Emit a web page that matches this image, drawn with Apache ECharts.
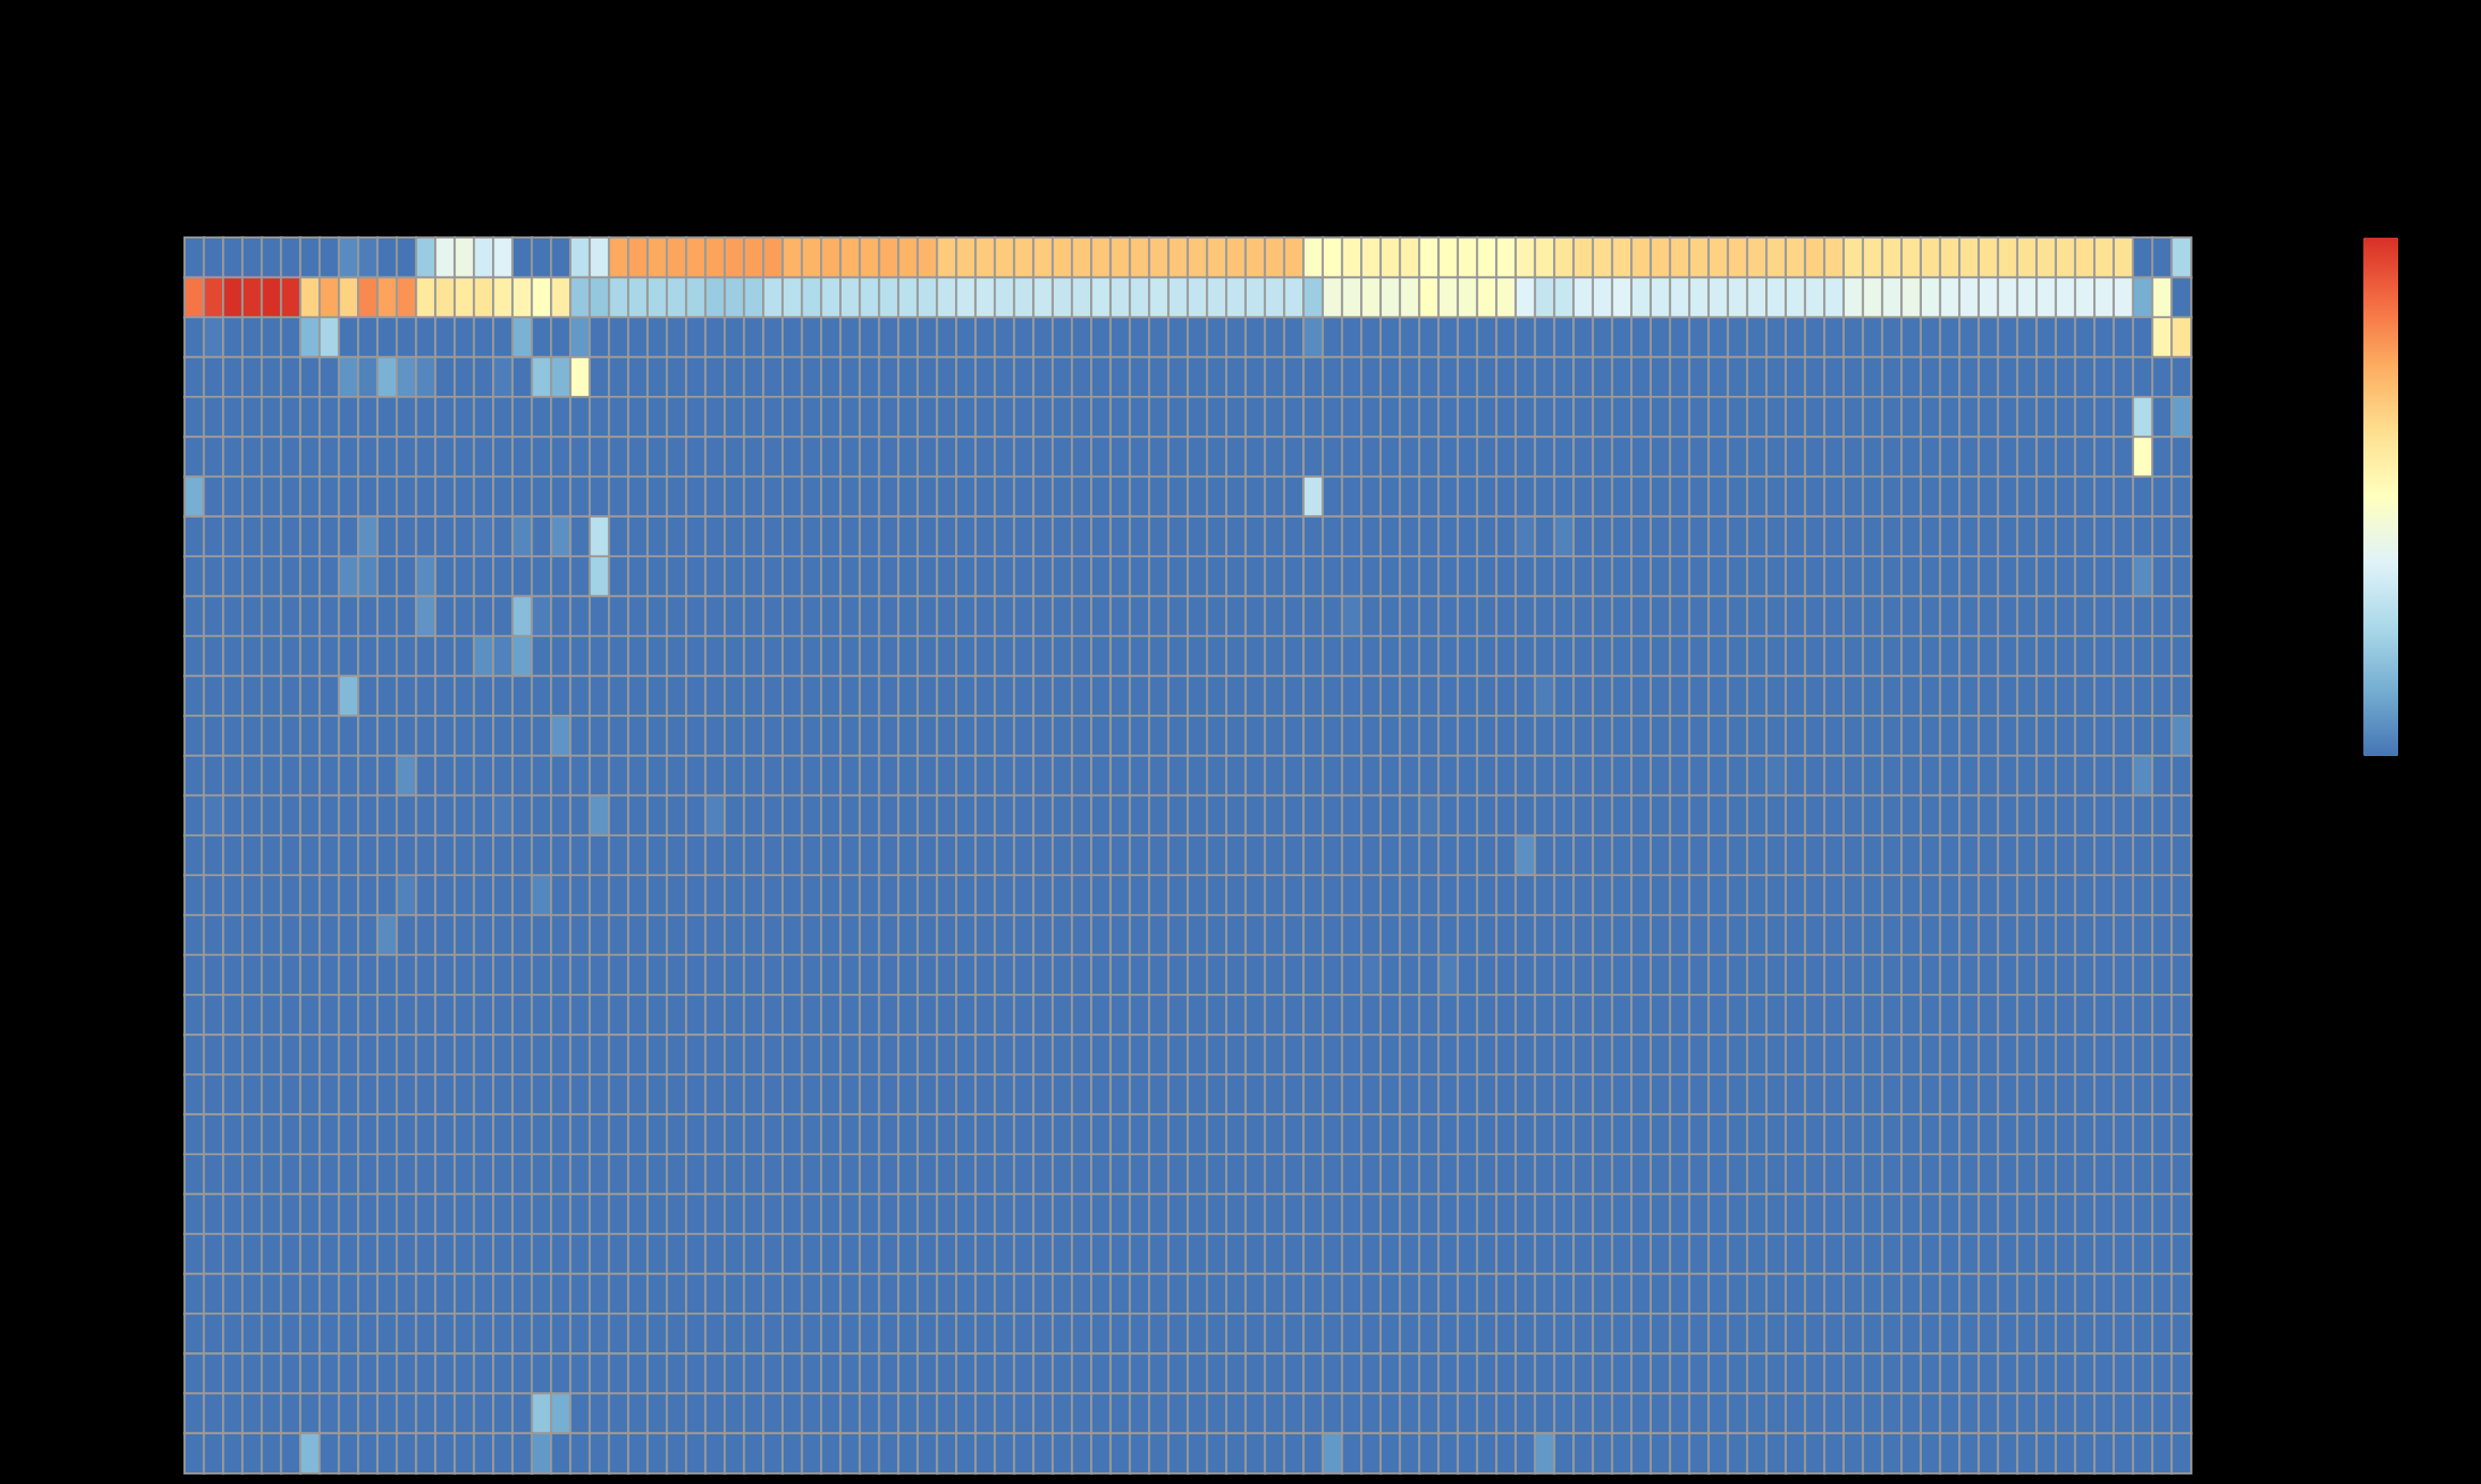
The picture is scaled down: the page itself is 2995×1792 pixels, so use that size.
<!DOCTYPE html>
<html>
<head>
<meta charset="utf-8">
<script src="https://cdn.jsdelivr.net/npm/echarts@6/dist/echarts.min.js"></script>
<style>
html,body{margin:0;padding:0;background:#000;}
#chart{width:2995px;height:1792px;}
</style>
</head>
<body>
<div id="chart"></div>
<script>
// ---- data (value scale 0..1) ----
const nCols = 104;
const nRows = 31;
const colLabels = Array.from({length: nCols}, (_, i) => 'S' + (i + 1));
const rowLabels = Array.from({length: nRows}, (_, i) => 'R' + (i + 1));

const row1Values = [
  0,0,0,0,0,0,0,0,
  0.05,0.02,0,0,
  0.21,0.40,0.42,0.34,0.37,0,0,0,0.29,0.34,
  0.758,0.77,0.758,0.765,0.765,0.77,0.777,0.777,0.78,0.735,0.735,
  0.745,0.735,0.735,0.745,0.735,0.73,
  0.68,0.68,0.68,0.68,0.68,0.68,0.685,0.685,0.69,0.69,0.69,0.69,0.69,0.69,0.69,0.695,0.695,0.70,0.70,
  0.49,0.5,0.53,0.54,0.55,0.55,0.5,0.51,0.51,0.5,
  0.5,0.54,0.56,0.6,0.63,0.63,0.64,0.66,0.665,0.665,0.66,0.66,0.665,0.66,0.65,0.65,0.665,0.65,
  0.61,0.61,0.61,0.61,0.615,0.615,0.615,0.615,0.615,0.615,0.615,0.615,0.625,0.615,0.615,
  0,0,0.245
];

const row2Values = [
  0.86,0.95,1.0,0.99,1.0,0.99,0.66,0.76,0.66,0.82,0.77,0.8,
  0.59,0.61,0.59,0.6,0.56,0.54,0.5,0.57,
  0.2,0.2,
  0.245,0.245,0.245,0.245,0.235,0.21,0.215,0.225,0.28,0.28,0.26,
  0.28,0.285,0.28,0.28,0.29,0.29,
  0.31,0.32,0.32,0.31,0.31,0.315,0.31,0.31,0.315,0.31,0.31,0.315,0.31,0.31,0.31,0.31,0.305,0.305,0.305,
  0.215,0.44,0.44,0.455,0.44,0.45,0.495,0.465,0.465,0.49,
  0.48,0.375,0.31,0.315,0.365,0.365,0.375,0.35,0.35,0.35,0.35,0.35,0.35,0.35,0.35,0.35,0.35,0.35,
  0.4,0.41,0.4,0.41,0.395,0.385,0.38,0.38,0.38,0.38,0.38,0.38,0.38,0.38,0.38,
  0.13,0.48,0
];

// remaining rows: every cell is at the minimum except these [row, col, value]
const otherCells = [
  [2,1,0.02],[2,6,0.16],[2,7,0.24],[2,17,0.14],[2,20,0.08],[2,58,0.05],[2,102,0.54],[2,103,0.61],
  [3,8,0.07],[3,9,0.03],[3,10,0.14],[3,11,0.07],[3,12,0.04],[3,16,0.02],[3,18,0.19],[3,19,0.15],[3,20,0.5],
  [4,101,0.26],[4,103,0.09],
  [5,101,0.5],
  [6,0,0.13],[6,58,0.3],
  [7,9,0.06],[7,15,0.01],[7,17,0.04],[7,19,0.06],[7,21,0.28],[7,69,0.02],[7,71,0.03],
  [8,8,0.05],[8,9,0.04],[8,12,0.05],[8,21,0.23],[8,101,0.05],
  [9,12,0.07],[9,17,0.17],[9,18,0.02],[9,60,0.02],
  [10,15,0.06],[10,16,0.03],[10,17,0.1],
  [11,8,0.16],[11,70,0.02],
  [12,19,0.07],[12,103,0.05],
  [13,11,0.06],[13,82,0.01],[13,101,0.05],
  [14,1,0.01],[14,16,0.01],[14,21,0.07],[14,27,0.03],[14,64,0.01],
  [15,69,0.06],
  [16,11,0.03],[16,18,0.04],
  [17,10,0.05],
  [18,61,0.01],[18,65,0.02],
  [29,18,0.19],[29,19,0.13],
  [30,6,0.16],[30,18,0.08],[30,59,0.08],[30,70,0.08]
];

const colorRange = ['#4575b4','#74add1','#abd9e9','#e0f3f8','#ffffbf','#fee090','#fdae61','#f46d43','#d73027'];

// ---- build heatmap data ----
const matrix = [];
for (let r = 0; r < nRows; r++) matrix.push(new Array(nCols).fill(0));
matrix[0] = row1Values.slice();
matrix[1] = row2Values.slice();
otherCells.forEach(([r, c, v]) => { matrix[r][c] = v; });
const heatData = [];
for (let r = 0; r < nRows; r++) {
  for (let c = 0; c < nCols; c++) heatData.push([c, r, matrix[r][c]]);
}

const chart = echarts.init(document.getElementById('chart'), null, {renderer: 'canvas'});
chart.setOption({
  backgroundColor: '#000000',
  animation: false,
  grid: {left: 223, top: 287, width: 2422, height: 1492},
  xAxis: {
    type: 'category', data: colLabels,
    axisLine: {show: false}, axisTick: {show: false}, axisLabel: {show: false},
    splitLine: {show: false}, splitArea: {show: false}
  },
  yAxis: {
    type: 'category', data: rowLabels, inverse: true,
    axisLine: {show: false}, axisTick: {show: false}, axisLabel: {show: false},
    splitLine: {show: false}, splitArea: {show: false}
  },
  visualMap: {
    type: 'continuous',
    min: 0, max: 1,
    calculable: false,
    orient: 'vertical',
    left: 2853, top: 287,
    padding: 0,
    itemWidth: 42,
    itemHeight: 626,
    text: null,
    showLabel: false,
    inRange: {color: colorRange}
  },
  series: [{
    type: 'heatmap',
    data: heatData,
    itemStyle: {borderColor: '#999999', borderWidth: 2.6},
    emphasis: {disabled: true},
    progressive: 0
  }]
});
</script>
</body>
</html>
